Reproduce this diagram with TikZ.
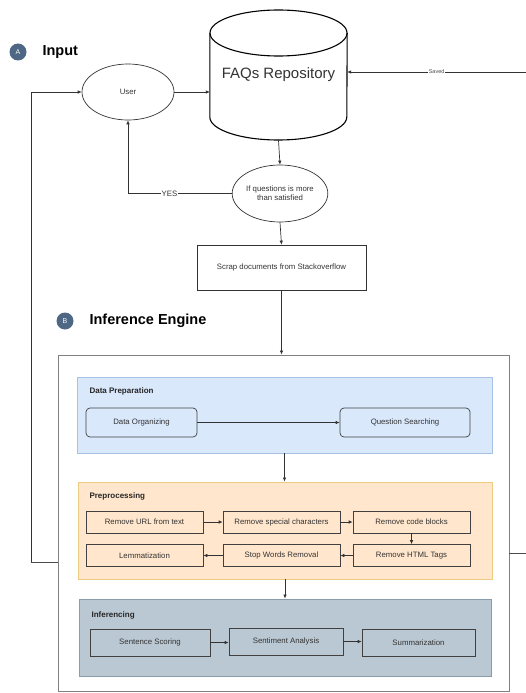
\documentclass[tikz,border=0pt]{standalone}
\usepackage{fontspec}
\setmainfont{Liberation Sans}
\usepackage{tikz}
\usetikzlibrary{arrows.meta,positioning,shapes.geometric}
\definecolor{badgeblue}{RGB}{78,103,132}
\definecolor{prepblue}{RGB}{218,232,252}
\definecolor{prepline}{RGB}{168,194,228}
\definecolor{procorange}{RGB}{255,230,204}
\definecolor{procline}{RGB}{236,204,128}
\definecolor{infgray}{RGB}{186,200,211}
\definecolor{infline}{RGB}{138,156,170}
\tikzset{
  flow/.style={-{Latex[length=4pt,width=3.6pt]},line width=0.7pt,draw=black!80},
  badge/.style={circle,fill=badgeblue,text=white,minimum size=17pt,inner sep=0pt,font=\fontsize{7}{8}\selectfont},
  heading/.style={anchor=west,font=\bfseries\fontsize{14.5}{16}\selectfont},
  panel/.style={draw,line width=0.8pt,inner sep=0pt},
  paneltitle/.style={anchor=west,font=\bfseries\fontsize{8}{9}\selectfont,text=black!85},
  stepbox/.style={draw=black!75,line width=0.7pt,inner sep=1pt,font=\fontsize{7.8}{9}\selectfont,text=black!80},
  oval/.style={ellipse,draw=black!80,line width=0.7pt,inner sep=0pt,font=\fontsize{7.8}{9}\selectfont,text=black!80,align=center}
}

\begin{document}
\begin{tikzpicture}[x=1pt,y=-1pt]
  \useasboundingbox (0,0) rectangle (526,693);
  % part A
  \node[badge] (badgeA) at (18,52) {A};
  \node[heading] (inputlbl) at (39,52) {Input};
  \node[minimum width=137pt,minimum height=130pt,inner sep=0pt,
        font=\fontsize{15}{17}\selectfont,text=black!80] (repo) at (278.5,75) {FAQs Repository};
  \draw[line width=1.1pt] (repo.north west |- 0,33) -- (repo.south west |- 0,117)
    arc[start angle=180,end angle=360,x radius=68.5pt,y radius=23pt] -- (repo.north east |- 0,33);
  \draw[line width=1.1pt] (278.5,33) ellipse[x radius=68.5pt,y radius=23pt];
  \node[oval,minimum width=92pt,minimum height=56pt] (user) at (128,92) {User};
  \node[oval,minimum width=94pt,minimum height=57pt] (check) at (280,193.5) {If questions is more\\than satisfied};
  \node[stepbox,draw=black!80,minimum width=169pt,minimum height=45pt] (scrap) at (281.5,267.5) {Scrap documents from Stackoverflow};
  \coordinate (savedin) at (526,72);
  \coordinate (fbcorner) at (31,562);
  \coordinate (rightout) at (526,553);
  \draw[flow] (user.east) -- (user.east -| repo.west);
  \draw[flow] (savedin) -- node[fill=white,inner sep=0.5pt,pos=0.5,font=\fontsize{5.5}{6}\selectfont,text=black!70] {Saved} (savedin -| repo.east);
  \draw[flow] (repo.south) -- (check.north);
  \draw[flow] (check.west) -| node[pos=0.3,fill=white,inner sep=0.5pt,font=\fontsize{7.8}{9}\selectfont,text=black!80] {YES} (user.south);
  \draw[flow] (check.south) -- (scrap.north);

  % part B
  \node[badge] (badgeB) at (65,321) {B};
  \node[heading] (enginelbl) at (86,321) {Inference Engine};
  \node[panel,draw=black!50,minimum width=451pt,minimum height=336pt] (engine) at (283.5,523) {};
  \draw[flow] (scrap.south) -- (scrap.south |- engine.north);
  \draw[line width=0.7pt,draw=black!70] (engine.west |- fbcorner) -- (fbcorner);
  \draw[flow] (fbcorner) |- (user.west);
  \draw[line width=0.7pt,draw=black!70] (engine.east |- rightout) -- (rightout);

  % data preparation
  \node[panel,fill=prepblue,draw=prepline,minimum width=415pt,minimum height=76pt] (prep) at (284.5,415) {};
  \node[paneltitle] (preplbl) at (86,391) {Data Preparation};
  \node[stepbox,rounded corners=4pt,minimum width=111pt,minimum height=29pt] (organize) at (141.5,422.5) {Data Organizing};
  \node[stepbox,rounded corners=4pt,minimum width=130pt,minimum height=29pt] (search) at (405,422.5) {Question Searching};
  \draw[flow] (organize) -- (search);

  % preprocessing
  \node[panel,fill=procorange,draw=procline,minimum width=414pt,minimum height=97pt] (proc) at (285,530.5) {};
  \node[paneltitle] (proclbl) at (86,496) {Preprocessing};
  \draw[flow] (prep.south) -- (prep.south |- proc.north);
  \node[stepbox,minimum width=117pt,minimum height=22pt] (url) at (144.5,522) {Remove URL from text};
  \node[stepbox,minimum width=117pt,minimum height=22pt] (special) at (281.5,522) {Remove special characters};
  \node[stepbox,minimum width=117pt,minimum height=22pt] (code) at (411.5,522) {Remove code blocks};
  \node[stepbox,minimum width=117pt,minimum height=22pt] (lemma) at (144.5,555.5) {Lemmatization};
  \node[stepbox,minimum width=117pt,minimum height=22pt] (stop) at (281.5,555.5) {Stop Words Removal};
  \node[stepbox,minimum width=117pt,minimum height=22pt] (html) at (411.5,555.5) {Remove HTML Tags};
  \draw[flow] (url) -- (special);
  \draw[flow] (special) -- (code);
  \draw[flow] (code) -- (html);
  \draw[flow] (html) -- (stop);
  \draw[flow] (stop) -- (lemma);

  % inferencing
  \node[panel,fill=infgray,draw=infline,minimum width=412pt,minimum height=77pt] (infer) at (285,637.5) {};
  \node[paneltitle] (inferlbl) at (88,615) {Inferencing};
  \draw[flow] (proc.south) -- (proc.south |- infer.north);
  \node[stepbox,minimum width=120pt,minimum height=27pt] (scoring) at (150,642.5) {Sentence Scoring};
  \node[stepbox,minimum width=114pt,minimum height=27pt] (sentiment) at (286,641.5) {Sentiment Analysis};
  \node[stepbox,minimum width=113pt,minimum height=27pt] (summary) at (418.5,642.5) {Summarization};
  \draw[flow] (scoring.east) -- (scoring.east -| sentiment.west);
  \draw[flow] (sentiment.east) -- (sentiment.east -| summary.west);
\end{tikzpicture}
\end{document}
